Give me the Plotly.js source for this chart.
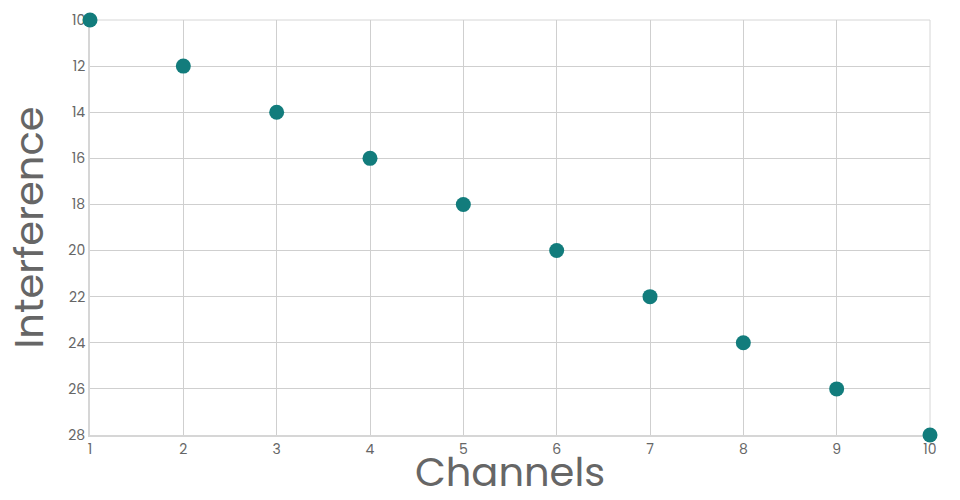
<!DOCTYPE html>
<html><head><meta charset="utf-8">
<script src="https://cdn.plot.ly/plotly-3.0.1.min.js"></script>
<style>body{margin:0}#chart{width:960px;height:500px}</style>
</head><body><div id="chart"></div>
<script>
const channels = [1,2,3,4,5,6,7,8,9,10];
const interference = [10,12,14,16,18,20,22,24,26,28];
const xTicks = [1,2,3,4,5,6,7,8,9,10];
const yTicks = [10,12,14,16,18,20,22,24,26,28];
const font = "Poppins, Inter, 'Open Sans', sans-serif";
Plotly.newPlot('chart', [{
  x: channels, y: interference, type: 'scatter', mode: 'markers',
  marker: {color: '#127c7c', size: 15}, cliponaxis: false
}], {
  width: 960, height: 500,
  margin: {l: 90, r: 30, t: 20, b: 65},
  paper_bgcolor: '#fff', plot_bgcolor: '#fff',
  font: {family: font, color: '#666'},
  showlegend: false,
  xaxis: {
    range: [1, 10], tickvals: xTicks, ticktext: xTicks.map(String),
    showgrid: true, gridcolor: '#cfcfcf', zeroline: false,
    showline: true, linecolor: '#d6d6d6', linewidth: 2, layer: 'below traces',
    ticks: '', tickfont: {size: 14, color: '#666'},
    title: {text: 'Channels', font: {size: 40, color: '#666'}, standoff: 6}
  },
  yaxis: {
    range: [28, 10], tickvals: yTicks, ticktext: yTicks.map(String),
    showgrid: true, gridcolor: '#cfcfcf', zeroline: false,
    showline: true, linecolor: '#d6d6d6', linewidth: 2, layer: 'below traces',
    ticks: '', tickfont: {size: 14, color: '#666'},
    title: {text: 'Interference', font: {size: 40, color: '#666'}, standoff: 12}
  },
  shapes: [{type:'line', xref:'paper', yref:'paper', x0:1, x1:1, y0:0, y1:1, layer:'below', line:{color:'#d6d6d6', width:1}},
           {type:'line', xref:'paper', yref:'paper', x0:0, x1:1, y0:1, y1:1, layer:'below', line:{color:'#d6d6d6', width:1}}]
}, {displayModeBar: false, staticPlot: true});
</script></body></html>
